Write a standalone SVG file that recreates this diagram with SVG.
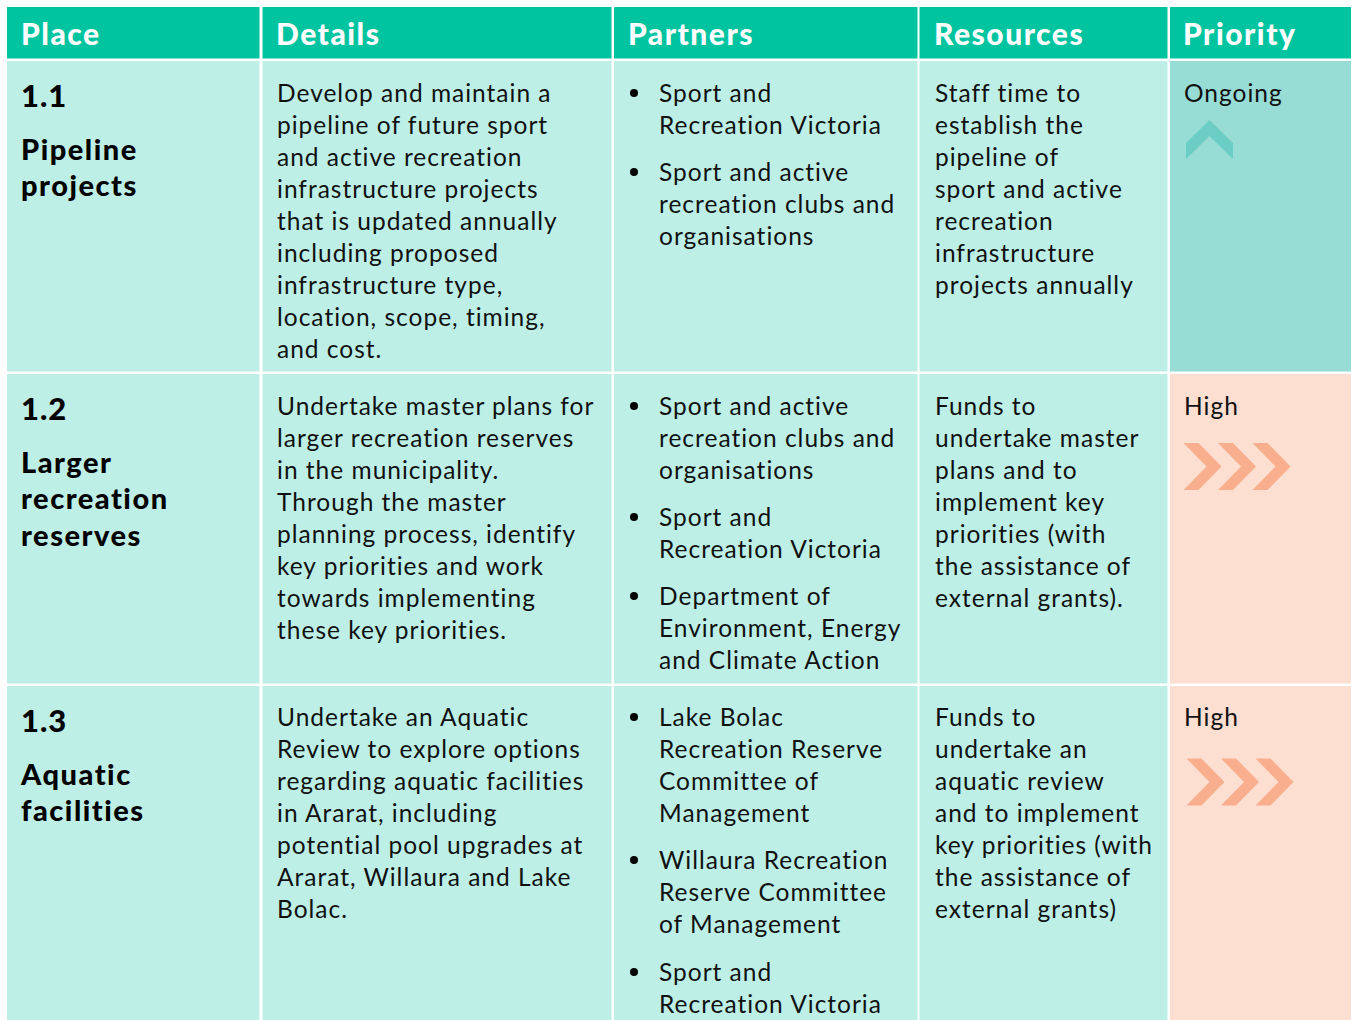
<svg xmlns="http://www.w3.org/2000/svg" xmlns:xlink="http://www.w3.org/1999/xlink" width="1353" height="1020" viewBox="0 0 1353 1020">
<style>
text{font-variant-ligatures:none;font-feature-settings:"liga" 0}
.hd{fill:#00C4A0}
.lt{fill:#BDEFE6}
.og{fill:#98DDD5}
.hi{fill:#FDDFD2}
.ht{font-family:Lato,"Open Sans",sans-serif;font-weight:900;font-size:30px;letter-spacing:1.5px;fill:#ffffff}
.pl{font-family:Lato,"Open Sans",sans-serif;font-weight:900;font-size:29px;letter-spacing:1.5px;fill:#000000}
.num{font-family:Lato,"Open Sans",sans-serif;font-weight:900;font-size:31px;letter-spacing:1px;fill:#000000}
.tx{font-family:Lato,"Open Sans",sans-serif;font-weight:400;font-size:24.5px;letter-spacing:1px;fill:#111111}
.bul{fill:#000000}
.chev{fill:#F9AF8D}
.up{fill:#6BCDC3}
</style>
<defs>
<path id="chev" d="M0 0 L15 0 L38 23.5 L15 47 L0 47 L23 23.5 Z"/>
</defs>
<rect width="1353" height="1020" fill="#ffffff"/>

<g id="header">
<rect class="hd" x="7" y="7" width="252.5" height="51.5"/>
<rect class="hd" x="262.5" y="7" width="349" height="51.5"/>
<rect class="hd" x="614" y="7" width="303.5" height="51.5"/>
<rect class="hd" x="919.5" y="7" width="248" height="51.5"/>
<rect class="hd" x="1170" y="7" width="181" height="51.5"/>
<text class="ht" x="21" y="45">Place</text>
<text class="ht" x="276" y="45">Details</text>
<text class="ht" x="628" y="45">Partners</text>
<text class="ht" x="934" y="45">Resources</text>
<text class="ht" x="1183" y="45">Priority</text>
</g>

<g id="row1">
<rect class="lt" x="7" y="61" width="252.5" height="310.5"/>
<rect class="lt" x="262.5" y="61" width="349" height="310.5"/>
<rect class="lt" x="614" y="61" width="303.5" height="310.5"/>
<rect class="lt" x="919.5" y="61" width="248" height="310.5"/>
<rect class="og" x="1170" y="61" width="181" height="310.5"/>
<text class="num" x="21" y="107">1.1</text>
<text class="pl" x="21" y="160">Pipeline</text>
<text class="pl" x="21" y="196">projects</text>
<text class="tx" x="277">
<tspan x="277" y="102">Develop and maintain a</tspan>
<tspan x="277" y="134">pipeline of future sport</tspan>
<tspan x="277" y="166">and active recreation</tspan>
<tspan x="277" y="198">infrastructure projects</tspan>
<tspan x="277" y="230">that is updated annually</tspan>
<tspan x="277" y="262">including proposed</tspan>
<tspan x="277" y="294">infrastructure type,</tspan>
<tspan x="277" y="326">location, scope, timing,</tspan>
<tspan x="277" y="358">and cost.</tspan>
</text>
<circle class="bul" cx="634" cy="93" r="4"/>
<circle class="bul" cx="634" cy="172" r="4"/>
<text class="tx">
<tspan x="659" y="102">Sport and</tspan>
<tspan x="659" y="134">Recreation Victoria</tspan>
<tspan x="659" y="181">Sport and active</tspan>
<tspan x="659" y="213">recreation clubs and</tspan>
<tspan x="659" y="245">organisations</tspan>
</text>
<text class="tx">
<tspan x="935" y="102">Staff time to</tspan>
<tspan x="935" y="134">establish the</tspan>
<tspan x="935" y="166">pipeline of</tspan>
<tspan x="935" y="198">sport and active</tspan>
<tspan x="935" y="230">recreation</tspan>
<tspan x="935" y="262">infrastructure</tspan>
<tspan x="935" y="294">projects annually</tspan>
</text>
<text class="tx" x="1184" y="102">Ongoing</text>
<path class="up" d="M1209.5 120 L1233 143 L1233 159 L1209.5 136 L1186 159 L1186 143 Z"/>
</g>

<g id="row2">
<rect class="lt" x="7" y="374" width="252.5" height="309.5"/>
<rect class="lt" x="262.5" y="374" width="349" height="309.5"/>
<rect class="lt" x="614" y="374" width="303.5" height="309.5"/>
<rect class="lt" x="919.5" y="374" width="248" height="309.5"/>
<rect class="hi" x="1170" y="374" width="181" height="309.5"/>
<text class="num" x="21" y="420">1.2</text>
<text class="pl" x="21" y="473">Larger</text>
<text class="pl" x="21" y="509">recreation</text>
<text class="pl" x="21" y="546">reserves</text>
<text class="tx">
<tspan x="277" y="415">Undertake master plans for</tspan>
<tspan x="277" y="447">larger recreation reserves</tspan>
<tspan x="277" y="479">in the municipality.</tspan>
<tspan x="277" y="511">Through the master</tspan>
<tspan x="277" y="543">planning process, identify</tspan>
<tspan x="277" y="575">key priorities and work</tspan>
<tspan x="277" y="607">towards implementing</tspan>
<tspan x="277" y="639">these key priorities.</tspan>
</text>
<circle class="bul" cx="634" cy="406" r="4"/>
<circle class="bul" cx="634" cy="517" r="4"/>
<circle class="bul" cx="634" cy="596" r="4"/>
<text class="tx">
<tspan x="659" y="415">Sport and active</tspan>
<tspan x="659" y="447">recreation clubs and</tspan>
<tspan x="659" y="479">organisations</tspan>
<tspan x="659" y="526">Sport and</tspan>
<tspan x="659" y="558">Recreation Victoria</tspan>
<tspan x="659" y="605">Department of</tspan>
<tspan x="659" y="637">Environment, Energy</tspan>
<tspan x="659" y="669">and Climate Action</tspan>
</text>
<text class="tx">
<tspan x="935" y="415">Funds to</tspan>
<tspan x="935" y="447">undertake master</tspan>
<tspan x="935" y="479">plans and to</tspan>
<tspan x="935" y="511">implement key</tspan>
<tspan x="935" y="543">priorities (with</tspan>
<tspan x="935" y="575">the assistance of</tspan>
<tspan x="935" y="607">external grants).</tspan>
</text>
<text class="tx" x="1184" y="415">High</text>
<use xlink:href="#chev" class="chev" x="1183.5" y="443"/>
<use xlink:href="#chev" class="chev" x="1218" y="443"/>
<use xlink:href="#chev" class="chev" x="1252.5" y="443"/>
</g>

<g id="row3">
<rect class="lt" x="7" y="686" width="252.5" height="334"/>
<rect class="lt" x="262.5" y="686" width="349" height="334"/>
<rect class="lt" x="614" y="686" width="303.5" height="334"/>
<rect class="lt" x="919.5" y="686" width="248" height="334"/>
<rect class="hi" x="1170" y="686" width="181" height="334"/>
<text class="num" x="21" y="732">1.3</text>
<text class="pl" x="21" y="785">Aquatic</text>
<text class="pl" x="21" y="821">facilities</text>
<text class="tx">
<tspan x="277" y="726">Undertake an Aquatic</tspan>
<tspan x="277" y="758">Review to explore options</tspan>
<tspan x="277" y="790">regarding aquatic facilities</tspan>
<tspan x="277" y="822">in Ararat, including</tspan>
<tspan x="277" y="854">potential pool upgrades at</tspan>
<tspan x="277" y="886">Ararat, Willaura and Lake</tspan>
<tspan x="277" y="918">Bolac.</tspan>
</text>
<circle class="bul" cx="634" cy="717" r="4"/>
<circle class="bul" cx="634" cy="860" r="4"/>
<circle class="bul" cx="634" cy="972" r="4"/>
<text class="tx">
<tspan x="659" y="726">Lake Bolac</tspan>
<tspan x="659" y="758">Recreation Reserve</tspan>
<tspan x="659" y="790">Committee of</tspan>
<tspan x="659" y="822">Management</tspan>
<tspan x="659" y="869">Willaura Recreation</tspan>
<tspan x="659" y="901">Reserve Committee</tspan>
<tspan x="659" y="933">of Management</tspan>
<tspan x="659" y="981">Sport and</tspan>
<tspan x="659" y="1013">Recreation Victoria</tspan>
</text>
<text class="tx">
<tspan x="935" y="726">Funds to</tspan>
<tspan x="935" y="758">undertake an</tspan>
<tspan x="935" y="790">aquatic review</tspan>
<tspan x="935" y="822">and to implement</tspan>
<tspan x="935" y="854">key priorities (with</tspan>
<tspan x="935" y="886">the assistance of</tspan>
<tspan x="935" y="918">external grants)</tspan>
</text>
<text class="tx" x="1184" y="726">High</text>
<use xlink:href="#chev" class="chev" x="1186.5" y="758.5"/>
<use xlink:href="#chev" class="chev" x="1221" y="758.5"/>
<use xlink:href="#chev" class="chev" x="1255.5" y="758.5"/>
</g>
</svg>
